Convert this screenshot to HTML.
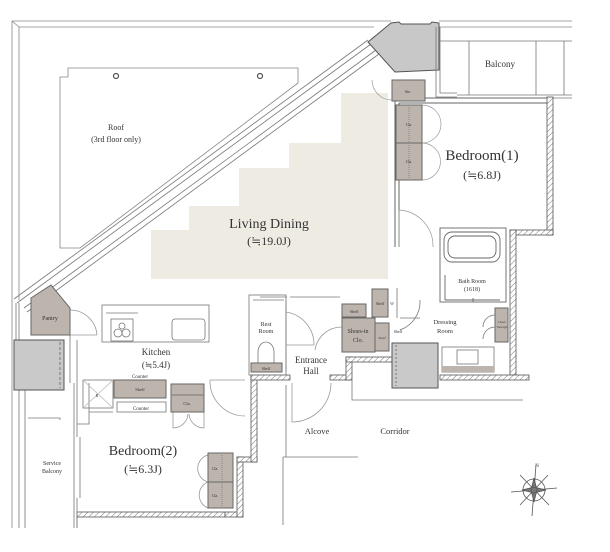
<!DOCTYPE html>
<html><head><meta charset="utf-8"><style>
html,body{margin:0;padding:0;background:#fff;}
svg{display:block;}
text{font-family:"Liberation Serif","DejaVu Serif",serif;fill:#333;text-anchor:middle;}
</style></head><body>
<svg width="610" height="552" viewBox="0 0 610 552" xmlns="http://www.w3.org/2000/svg">
<defs>
<pattern id="h" width="4" height="4" patternUnits="userSpaceOnUse" patternTransform="rotate(45)">
<rect width="4" height="4" fill="#fff"/><line x1="0" y1="0" x2="0" y2="4" stroke="#777" stroke-width="1"/>
</pattern>
</defs>
<g fill="none" stroke="#888" stroke-width="0.8">
<!-- outer roof frame -->
<path d="M12,21 H391 M19,27 H374 M12,21 V528 M19,27 V300 M12,21 L19,27"/>
<!-- roof polygon -->
<path d="M68,68 H298 V83 L80,248 H60 V77 H68 Z"/>
<circle cx="116" cy="76" r="2.5" stroke="#555" stroke-width="1.2"/>
<circle cx="260" cy="76" r="2.5" stroke="#555" stroke-width="1.2"/>
<!-- diagonal wall -->
<path d="M368,40 L14,299 M371,44 L17,303 M376,50 L24,308 M379,54 L27,312" stroke="#777"/>
<!-- top right wall -->
<path d="M439,21 H572 M439,27 H572"/>
</g>
<!-- living beige -->
<path d="M341,93 H388 V279 H151 V230 H189 V206 H239 V168 H289 V143 H341 Z" fill="#eeebe3"/>
<!-- gray column -->
<path d="M368,42 L391,23 L399,22 L401,24 L430,24 L432,22 L439,23 V70 L395,72 Z" fill="#c8c8c8" stroke="#555" stroke-width="1"/>
<!-- balcony -->
<g fill="none" stroke="#777" stroke-width="0.8">
<path d="M436,27 V97 H457 M440,27 V93 H457 M440,41 H572 M469,41 V95 M536,41 V95 M564,41 V95 M535,95 H572 M535,98 H572 M457,95 H535"/>
</g>
<text x="500" y="67" font-size="9">Balcony</text>
<!-- bedroom 1 -->
<g fill="none" stroke="#666" stroke-width="1">
<path d="M395,101 V247 M399,103 V247 M399,98 H547 M399,103 H547"/>
<path d="M372,80 A20,20 0 0 0 392,100" stroke="#999" stroke-width="0.7"/>
<path d="M422,105 A18,18 0 0 1 422,143 M422,143 A18,18 0 0 1 422,180" stroke="#999" stroke-width="0.7"/>
<path d="M399,210 A36,36 0 0 1 433,247 M399,210 V247" stroke="#999" stroke-width="0.7"/>
</g>
<rect x="392" y="80" width="33" height="21" fill="#bdb5ad" stroke="#666"/>
<text x="408" y="93" font-size="4">Sto.</text>
<rect x="396" y="105" width="26" height="38" fill="#bdb5ad" stroke="#666"/>
<rect x="396" y="143" width="26" height="37" fill="#bdb5ad" stroke="#666"/>
<line x1="409" y1="107" x2="409" y2="178" stroke="#888" stroke-dasharray="1,1"/>
<text x="409" y="126" font-size="4">Cla.</text><text x="409" y="163" font-size="4">Cla.</text>
<text x="482" y="160" font-size="15">Bedroom(1)</text>
<text x="482" y="179" font-size="12">(≒6.8J)</text>
<text x="269" y="228" font-size="14">Living Dining</text>
<text x="269" y="245" font-size="12">(≒19.0J)</text>
<text x="116" y="130" font-size="8">Roof</text>
<text x="116" y="142" font-size="8">(3rd floor only)</text>
<!-- hatched walls -->
<g fill="url(#h)" stroke="#555" stroke-width="0.8">
<rect x="547" y="97" width="6" height="138"/>
<rect x="510" y="230" width="43" height="5"/>
<rect x="510" y="230" width="6" height="145"/>
<rect x="440" y="375" width="89" height="5"/>
<rect x="77" y="512" width="148" height="5"/>
<rect x="225" y="512" width="18" height="5"/>
<rect x="237" y="457" width="6" height="60"/>
<rect x="237" y="457" width="20" height="5"/>
<rect x="251" y="375" width="6" height="87"/>
<rect x="251" y="375" width="39" height="5"/>
<rect x="330" y="375" width="20" height="5"/>
<rect x="346" y="357" width="6" height="23"/>
<rect x="346" y="357" width="46" height="5"/>
</g>
<!-- bath -->
<g fill="none" stroke="#666" stroke-width="0.9">
<rect x="440" y="228" width="66" height="74"/>
<rect x="444" y="232" width="56" height="30" rx="8"/>
<rect x="448" y="236" width="48" height="22" rx="7"/>
<path d="M445,275 V300 M473,298 V302 M445,300 H500"/>
</g>
<text x="472" y="283" font-size="6">Bath Room</text>
<text x="472" y="291" font-size="6">(1618)</text>
<!-- left side -->
<g fill="none" stroke="#777" stroke-width="0.8">
<path d="M16,303 V340 M19,303 V340 M25,390 V528 M19,390 V528 M74,383 V437 M77,383 V437 M74,498 V528 M77,498 V528 M74,437 V498 M80,437 V498"/>
<path d="M28,418 H60 V420 M77,424 H89 V412 H113 M89,412 V383 M77,383 V340 M70,335 V383"/>
<path d="M70,310 A27,27 0 0 1 97,335 M70,335 H97" stroke="#999"/>
<path d="M77,517 V528"/>
</g>
<path d="M31,298 L51,285 L70,308 V335 H31 Z" fill="#bdb5ad" stroke="#666"/>
<text x="50" y="320" font-size="6">Pantry</text>
<rect x="14" y="340" width="50" height="50" fill="#c9c9c9" stroke="#555"/>
<line x1="60" y1="342" x2="60" y2="388" stroke="#777" stroke-dasharray="3,2"/>
<text x="52" y="465" font-size="6">Service</text>
<text x="52" y="473" font-size="6">Balcony</text>
<!-- kitchen -->
<g fill="none" stroke="#777" stroke-width="0.8">
<rect x="102" y="305" width="107" height="37"/>
<rect x="111" y="319" width="22" height="22"/>
<circle cx="118" cy="333" r="4"/><circle cx="126" cy="333" r="4"/><circle cx="122" cy="326" r="3"/>
<rect x="172" y="319" width="33" height="21" rx="3"/>
<line x1="106" y1="313" x2="138" y2="313"/>
<rect x="83" y="380" width="30" height="28"/>
<path d="M83,380 L113,408 M113,380 L83,408" stroke="#bbb"/>
<rect x="117" y="402" width="49" height="10"/>
<path d="M210,380 A35,35 0 0 0 245,416 M210,380 H245" stroke="#999"/>
<path d="M173,412 V428 A15,15 0 0 0 188,414 M204,412 V428 A15,15 0 0 1 189,414" stroke="#999"/>
<path d="M208,455 A14,14 0 0 0 208,482 M208,482 A14,14 0 0 0 208,508" stroke="#999"/>
</g>
<text x="156" y="355" font-size="9">Kitchen</text>
<text x="156" y="368" font-size="9">(≒5.4J)</text>
<text x="140" y="378" font-size="5">Counter</text>
<rect x="114" y="380" width="52" height="18" fill="#bdb5ad" stroke="#666"/>
<text x="140" y="391" font-size="4.5">Shelf</text>
<text x="141" y="410" font-size="5">Counter</text>
<text x="97" y="397" font-size="4">R</text>
<rect x="171" y="384" width="33" height="28" fill="#bdb5ad" stroke="#666"/>
<line x1="171" y1="395" x2="204" y2="395" stroke="#777"/>
<text x="187" y="405" font-size="4.5">Cla.</text>
<text x="143" y="455" font-size="14">Bedroom(2)</text>
<text x="143" y="473" font-size="12">(≒6.3J)</text>
<rect x="208" y="453" width="25" height="29" fill="#bdb5ad" stroke="#666"/>
<rect x="208" y="482" width="25" height="26" fill="#bdb5ad" stroke="#666"/>
<line x1="222" y1="455" x2="222" y2="506" stroke="#888" stroke-dasharray="1,1"/>
<text x="215" y="470" font-size="4">Cla.</text><text x="215" y="497" font-size="4">Cla.</text>
<!-- rest room / entrance -->
<g fill="none" stroke="#777" stroke-width="0.8">
<rect x="249" y="295" width="37" height="80"/>
<path d="M253,300 H284 M260,297 H287 M286,300 V372 M290,297 H340"/>
<path d="M258,365 V352 A8,10 0 0 1 274,352 V365"/>
<path d="M286,312 A33,33 0 0 1 314,345 M286,345 H314" stroke="#999"/>
<path d="M342,327 A27,27 0 0 0 315,350" stroke="#999"/>
<path d="M292,383 V422 A39,39 0 0 0 331,383" stroke="#999"/>
<path d="M286,385 V457 M283,457 H358 M283,457 V525 M352,380 V400 H523"/>
<path d="M397,288 V318 M400,318 H420 M420,300 A30,30 0 0 1 400,330"/>
</g>
<rect x="251" y="363" width="31" height="9" fill="#bdb5ad" stroke="#666"/>
<text x="266" y="370" font-size="4">Shelf</text>
<text x="266" y="326" font-size="6">Rest</text>
<text x="266" y="333" font-size="6">Room</text>
<text x="311" y="363" font-size="9">Entrance</text>
<text x="311" y="374" font-size="9">Hall</text>
<rect x="342" y="304" width="24" height="13" fill="#bdb5ad" stroke="#666"/>
<text x="354" y="313" font-size="4">Shelf</text>
<rect x="342" y="318" width="33" height="34" fill="#bdb5ad" stroke="#666"/>
<text x="358" y="333" font-size="6">Shoes-in</text>
<text x="358" y="342" font-size="6">Clo.</text>
<rect x="375" y="323" width="14" height="28" fill="#bdb5ad" stroke="#666"/>
<text x="382" y="339" font-size="3.5">Shelf</text>
<rect x="372" y="289" width="16" height="28" fill="#bdb5ad" stroke="#666"/>
<text x="380" y="305" font-size="4">Shelf</text>
<text x="392" y="305" font-size="4">W</text>
<text x="398" y="333" font-size="4">Shelf</text>
<text x="445" y="324" font-size="6.5">Dressing</text>
<text x="445" y="333" font-size="6.5">Room</text>
<rect x="495" y="308" width="13" height="34" fill="#bdb5ad" stroke="#666"/>
<text x="502" y="323" font-size="3.5">Liner</text><text x="502" y="328" font-size="3.5">Storage</text>
<g fill="none" stroke="#777" stroke-width="0.8">
<rect x="442" y="347" width="52" height="25"/>
<rect x="457" y="350" width="21" height="14"/>
<path d="M495,315 A12,12 0 0 0 483,327 M495,327 A12,12 0 0 0 483,339"/>
</g>
<rect x="442" y="366" width="52" height="6" fill="#bdb5ad"/>
<rect x="392" y="343" width="46" height="45" fill="#c9c9c9" stroke="#555"/>
<line x1="396" y1="345" x2="396" y2="386" stroke="#777" stroke-dasharray="2,2"/>
<text x="317" y="434" font-size="8.5">Alcove</text>
<text x="395" y="434" font-size="8.5">Corridor</text>
<!-- compass -->
<g stroke="#555" stroke-width="0.8" fill="none">
<circle cx="534" cy="490" r="11"/>
<path d="M536,465 L532,516 M511,492 L557,488 M520,475 L549,505 M548,475 L520,505"/>
<path d="M534,478 L537,490 L534,502 L531,490 Z M522,490 L534,487 L546,490 L534,493 Z" fill="#777"/>
</g>
<text x="537" y="467" font-size="5">N</text>
</svg>
</body></html>
